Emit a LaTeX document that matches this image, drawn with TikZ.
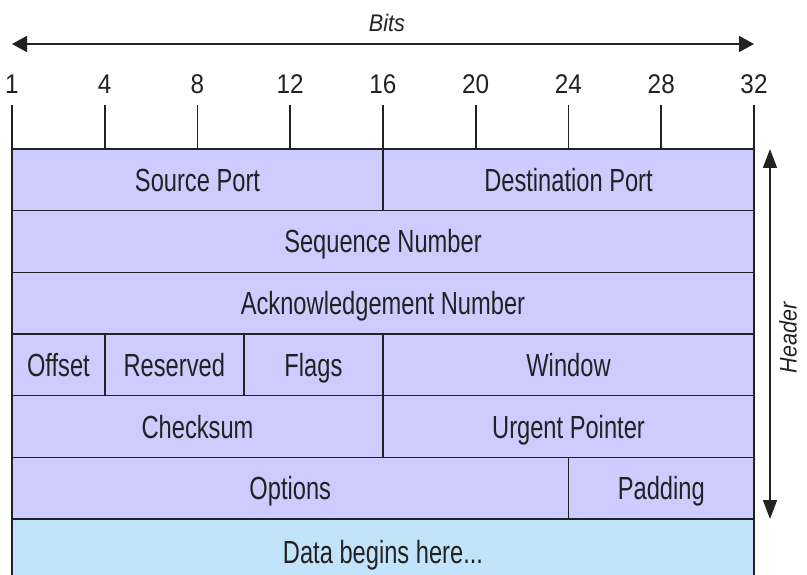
\documentclass[tikz,border=0pt]{standalone}
\usepackage{fontspec}
\setmainfont{Liberation Sans}
\newfontfamily\lblfont[FakeStretch=0.74]{Liberation Sans}
\newfontfamily\numfont[FakeStretch=0.9]{Liberation Sans}
\usetikzlibrary{arrows.meta}
\definecolor{hdr}{HTML}{CCCCFF}
\definecolor{dat}{HTML}{C2E4FA}
\definecolor{ln}{HTML}{222222}
\tikzset{
  field/.style={draw=ln, line width=1.6pt, fill=hdr, inner sep=0pt, text=ln,
    font=\lblfont\fontsize{32}{34}\selectfont, text height=23pt, text depth=0pt},
  lbl/.style={inner sep=0pt, text=ln, font=\lblfont\fontsize{32}{34}\selectfont,
    text height=23pt, text depth=0pt},
  num/.style={inner sep=0pt, text=ln, font=\numfont\fontsize{27}{29}\selectfont,
    text height=19pt, text depth=0pt},
  itl/.style={inner sep=0pt, text=ln, font=\numfont\itshape\fontsize{24}{26}\selectfont,
    text height=17pt, text depth=0pt},
  rule/.style={draw=ln, line width=1.6pt},
  dim/.style={draw=ln, line width=1.6pt},
}
\newcommand\fld[5]{%
  \pgfmathsetmacro\xa{12+#2*23.1875}%
  \pgfmathsetmacro\xb{12+#3*23.1875}%
  \pgfmathsetmacro\ya{149+#4*61.667}%
  \pgfmathsetmacro\ww{\xb-\xa}%
  \pgfmathsetmacro\cx{(\xa+\xb)/2}%
  \pgfmathsetmacro\cy{\ya+30.833}%
  \node[field, minimum width=\ww pt, minimum height=61.667pt] (#1) at (\cx,\cy) {#5};}
\begin{document}
\begin{tikzpicture}[x=1pt,y=-1pt]
\useasboundingbox (0,0) rectangle (807,575);
\clip (0,0) rectangle (807,575);
% data row (extends below the picture)
\node[draw=ln, line width=1.6pt, fill=dat, inner sep=0pt,
  minimum width=742pt, minimum height=81pt] (data) at (383,559.5) {};
\node[lbl] (datatxt) at (383,551.5) {Data begins here...};
% header fields
\fld{src}{0}{16}{0}{Source Port}
\fld{dst}{16}{32}{0}{Destination Port}
\fld{seq}{0}{32}{1}{Sequence Number}
\fld{ack}{0}{32}{2}{Acknowledgement Number}
\fld{off}{0}{4}{3}{Offset}
\fld{res}{4}{10}{3}{Reserved}
\fld{flg}{10}{16}{3}{Flags}
\fld{win}{16}{32}{3}{Window}
\fld{chk}{0}{16}{4}{Checksum}
\fld{urg}{16}{32}{4}{Urgent Pointer}
\fld{opt}{0}{24}{5}{Options}
\fld{pad}{24}{32}{5}{Padding}
% ticks and bit numbers
\foreach \k/\t in {0/1,1/4,2/8,3/12,4/16,5/20,6/24,7/28,8/32}{
  \coordinate (ta\k) at ({12+\k*92.75},105);
  \coordinate (tb\k) at ({12+\k*92.75},149);
  \draw[rule] (ta\k) -- (tb\k);
  \node[num] (n\k) at ({12+\k*92.75},84) {\t};
}
% bits arrow
\coordinate (bl) at (12,44);
\coordinate (br) at (754,44);
\draw[dim, {Triangle[length=15pt,width=16pt]}-{Triangle[length=15pt,width=16pt]}] (bl) -- (br);
\node[itl] (bits) at (387,23.5) {Bits};
% header arrow
\coordinate (ht) at (770,149);
\coordinate (hb) at (770,519);
\draw[dim, {Triangle[length=19pt,width=14pt]}-{Triangle[length=19pt,width=14pt]}] (ht) -- (hb);
\node[itl, rotate=90] (hdrlbl) at (788,338) {Header};
\end{tikzpicture}
\end{document}
